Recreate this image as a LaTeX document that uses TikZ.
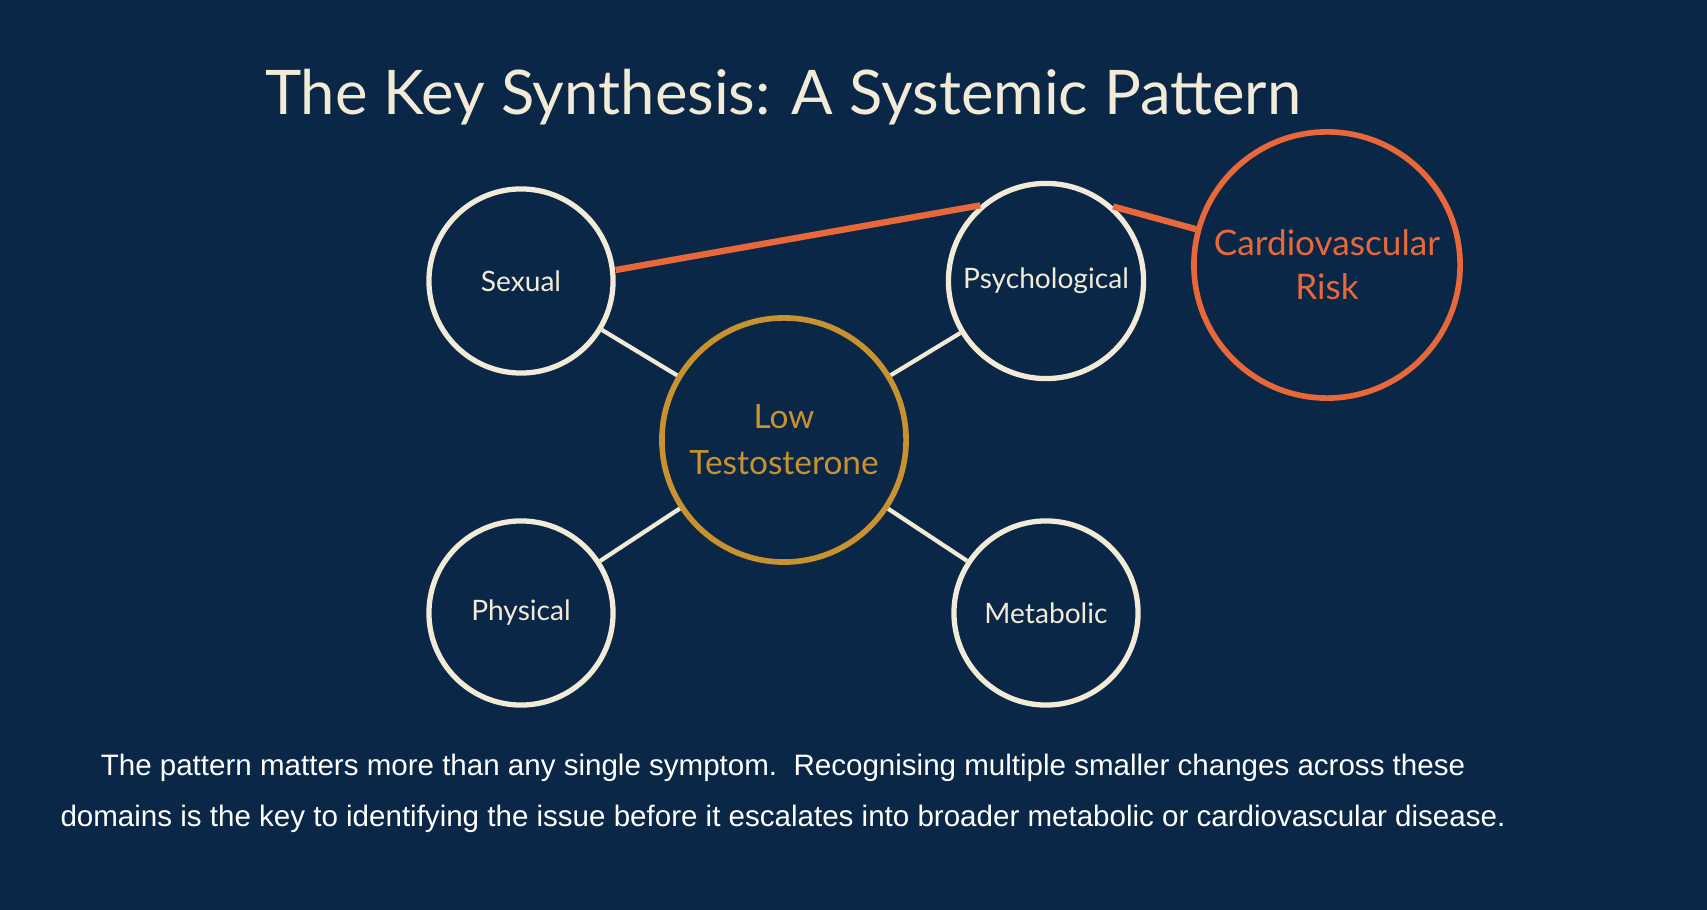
\documentclass[tikz,border=0pt]{standalone}
\usepackage{fontspec}
\setmainfont{Lato}
\newfontfamily\bodyfont{Liberation Sans}
\definecolor{navy}{HTML}{0B2747}
\definecolor{cream}{HTML}{F1EBD8}
\definecolor{gold}{HTML}{C8922E}
\definecolor{rust}{HTML}{E8683A}
\tikzset{
    area/.style={circle, draw=cream, line width=1.5pt, minimum size=1.84cm, text=cream, font=\fontsize{8}{10}\selectfont},
    spoke/.style={cream, line width=1.2pt},
}
\begin{document}
\begin{tikzpicture}[x=0.01cm, y=-0.01cm]
    \useasboundingbox (0,0) rectangle (1707,910);
    \fill[navy] (0,0) rectangle (1707,910);
    \node[text=cream, font=\fontsize{17.5}{20}\selectfont] (title) at (783,97) {The Key Synthesis: A Systemic Pattern};

    \node[area] (sex) at (521,281) {Sexual};
    \node[area] (psy) at (1046,281) {Psychological};
    \node[area] (phy) at (521,613) {Physical};
    \node[area] (met) at (1046,613) {Metabolic};
    \node[circle, draw=gold, line width=1.6pt, minimum size=2.44cm, text=gold, align=center,
        font=\fontsize{9.5}{13}\selectfont] (low) at (784,440) {Low\\Testosterone};
    \node[circle, draw=rust, line width=1.6pt, minimum size=2.3cm, text=rust, align=center,
        font=\fontsize{10}{12.5}\selectfont] (cvr) at (1327,265) {Cardiovascular\\Risk};

    \foreach \d in {sex,psy,phy,met}
    {
        \draw[spoke] (\d) -- (low);
    }
    \draw[rust, line width=1.8pt] (sex.east) ++(0,-11) -- (psy.131);
    \draw[rust, line width=1.8pt] (psy.48) -- (cvr);

    \node[text=white, align=center, font=\bodyfont\fontsize{8.4}{14.5}\selectfont] (note) at (783,793)
        {The pattern matters more than any single symptom.\ \ Recognising multiple smaller changes across these\\
         domains is the key to identifying the issue before it escalates into broader metabolic or cardiovascular disease.};
\end{tikzpicture}
\end{document}
